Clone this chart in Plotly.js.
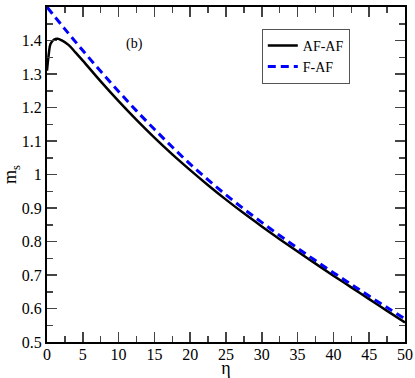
<!DOCTYPE html>
<html>
<head>
<meta charset="utf-8">
<script src="https://cdn.plot.ly/plotly-3.0.1.min.js"></script>
<style>
body { margin: 0; background: #fff; }
#graph { width: 415px; height: 378px; }
</style>
</head>
<body>
<div id="graph"></div>
<script>
// values
var etaAF = [0, 0.25, 0.5, 1, 1.5, 2, 3, 4, 5, 7.5, 10, 12.5, 15, 17.5, 20, 22.5, 25, 27.5, 30, 32.5, 35, 37.5, 40, 42.5, 45, 47.5, 50];
var msAF = [1.31, 1.36, 1.39, 1.403, 1.405, 1.401, 1.387, 1.364, 1.34, 1.278, 1.219, 1.163, 1.110, 1.060, 1.013, 0.968, 0.925, 0.884, 0.845, 0.807, 0.770, 0.734, 0.698, 0.663, 0.628, 0.593, 0.558];

var etaF = [0, 2.5, 5, 7.5, 10, 12.5, 15, 17.5, 20, 22.5, 25, 27.5, 30, 32.5, 35, 37.5, 40, 42.5, 45, 47.5, 50];
var msF = [1.5, 1.434, 1.370, 1.308, 1.248, 1.190, 1.135, 1.082, 1.031, 0.984, 0.939, 0.897, 0.857, 0.818, 0.780, 0.743, 0.707, 0.672, 0.637, 0.603, 0.569];

var FONT = "'Liberation Serif', 'Times New Roman', serif";

function genGraph()
{
	var afaf, faf, layout;

	afaf =
	{
		x: etaAF,
		y: msAF,
		type: "scatter",
		mode: "lines",
		name: "AF-AF",
		line: {color: "#000000", width: 2.5, shape: "spline", smoothing: 1}
	};

	faf =
	{
		x: etaF,
		y: msF,
		type: "scatter",
		mode: "lines",
		name: "F-AF",
		line: {color: "#0000ff", width: 3, dash: "8px,5px", shape: "spline", smoothing: 1}
	};

	layout =
	{
		width: 415,
		height: 378,
		margin: {l: 47, r: 10, t: 7, b: 36},
		paper_bgcolor: "#ffffff",
		plot_bgcolor: "#ffffff",
		font: {family: FONT, size: 16, color: "#000"},
		showlegend: true,
		legend:
		{
			x: 0.6, y: 0.935, xanchor: "left", yanchor: "top",
			bordercolor: "#555", borderwidth: 1,
			bgcolor: "#fff",
			font: {family: FONT, size: 14},
			tracegroupgap: 0,
			itemwidth: 30
		},
		xaxis:
		{
			title: {text: "η", font: {family: FONT, size: 18}, standoff: 0},
			range: [0, 50],
			dtick: 5,
			tick0: 0,
			ticks: "inside",
			ticklen: 10,
			tickwidth: 1.5,
			ticklabelstandoff: -3,
			tickfont: {family: FONT, size: 16},
			showline: true,
			linewidth: 2,
			linecolor: "#000",
			mirror: "ticks",
			showgrid: false,
			zeroline: false,
			minor: {ticks: "inside", ticklen: 6, dtick: 2.5, tickwidth: 1.5, showgrid: false}
		},
		yaxis:
		{
			title: {text: "m<sub>s</sub>", font: {family: FONT, size: 18}, standoff: 6},
			range: [0.5, 1.5],
			dtick: 0.1,
			tick0: 0.5,
			ticks: "inside",
			ticklen: 10,
			tickwidth: 1.5,
			tickfont: {family: FONT, size: 16},
			showline: true,
			linewidth: 2,
			linecolor: "#000",
			mirror: "ticks",
			showgrid: false,
			zeroline: false,
			minor: {ticks: "inside", ticklen: 6, dtick: 0.05, tickwidth: 1.5, showgrid: false}
		},
		annotations:
		[
			{
				x: 12.2, y: 1.39, xref: "x", yref: "y",
				text: "(b)", showarrow: false,
				font: {family: FONT, size: 14}
			}
		]
	};

	Plotly.newPlot("graph", [afaf, faf], layout, {displayModeBar: false, staticPlot: true});
}

genGraph();
</script>
</body>
</html>
